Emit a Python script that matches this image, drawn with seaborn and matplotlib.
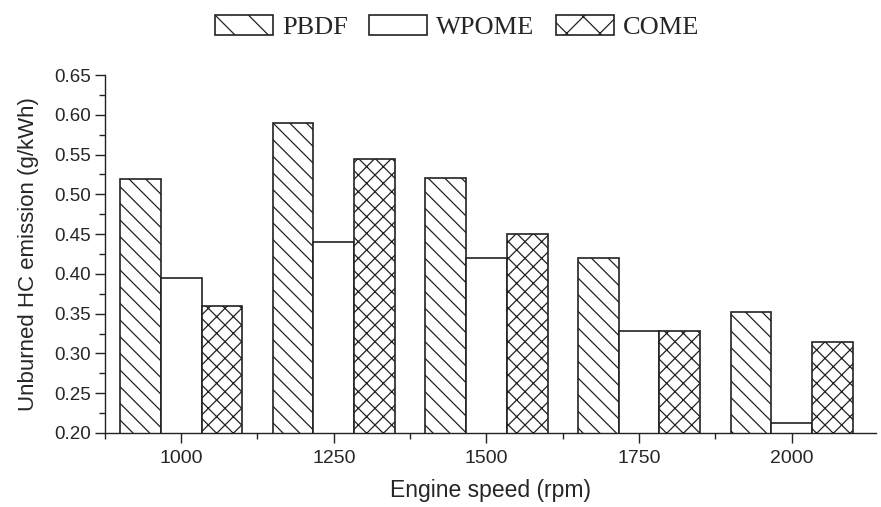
import numpy as np
import pandas as pd
import matplotlib
matplotlib.use('Agg')
import matplotlib.pyplot as plt
import seaborn as sns
from matplotlib.ticker import MultipleLocator, FixedLocator, FormatStrFormatter

speeds = ['1000', '1250', '1500', '1750', '2000']
pbdf = [0.519, 0.590, 0.520, 0.420, 0.352]
wpome = [0.395, 0.440, 0.420, 0.328, 0.212]
come = [0.360, 0.545, 0.450, 0.328, 0.315]
fuels = ['PBDF', 'WPOME', 'COME']
hatches = ['\\\\', '', 'xx']

df = pd.DataFrame({
    'speed': speeds * 3,
    'hc': pbdf + wpome + come,
    'fuel': ['PBDF'] * 5 + ['WPOME'] * 5 + ['COME'] * 5,
})

sns.set_style('ticks')
plt.rcParams['font.family'] = ['Liberation Sans', 'DejaVu Sans']
plt.rcParams['hatch.linewidth'] = 0.9
plt.rcParams['hatch.color'] = '#333333'

fig = plt.figure(figsize=(8.81, 5.07), dpi=100)
ax = fig.add_axes([0.119, 0.146, 0.875, 0.706])

sns.barplot(data=df, x='speed', y='hc', hue='fuel', hue_order=fuels,
            palette=['white'] * 3, edgecolor='#222222', linewidth=1.2,
            saturation=1, width=0.8, ax=ax, legend=False)

# hatch each series like the original
for i, cont in enumerate(ax.containers):
    for bar in cont:
        bar.set_hatch(hatches[i])

ax.set_ylim(0.20, 0.65)
ax.set_xlim(-0.5, 4.55)
ax.yaxis.set_major_locator(MultipleLocator(0.05))
ax.yaxis.set_minor_locator(MultipleLocator(0.025))
ax.yaxis.set_major_formatter(FormatStrFormatter('%.2f'))
ax.xaxis.set_minor_locator(FixedLocator([-0.5, 0.5, 1.5, 2.5, 3.5]))
ax.tick_params(axis='both', which='major', length=7, width=1, color='#222222')
ax.tick_params(axis='both', which='minor', length=4.5, width=1, color='#222222')
ax.tick_params(axis='x', labelsize=14, pad=5)
ax.tick_params(axis='y', labelsize=13.5, pad=3)
for s in ['top', 'right']:
    ax.spines[s].set_visible(False)
for s in ['left', 'bottom']:
    ax.spines[s].set_color('#222222')
    ax.spines[s].set_linewidth(1)

ax.set_xlabel('Engine speed (rpm)', fontsize=16.5, labelpad=9)
ax.set_ylabel('Unburned HC emission (g/kWh)', fontsize=16, labelpad=11)

handles = [plt.Rectangle((0, 0), 1, 1, facecolor='white', edgecolor='#222222',
                         linewidth=1.2, hatch=h) for h in ['\\', '', 'x']]
fig.legend(handles, fuels, loc='center', bbox_to_anchor=(0.519, 0.946),
           ncol=3, frameon=False, handlelength=2.2, handleheight=0.76,
           handletextpad=0.34, columnspacing=0.8, borderpad=0,
           prop={'family': 'Liberation Serif', 'size': 19})

fig.savefig('out.png', dpi=100)
